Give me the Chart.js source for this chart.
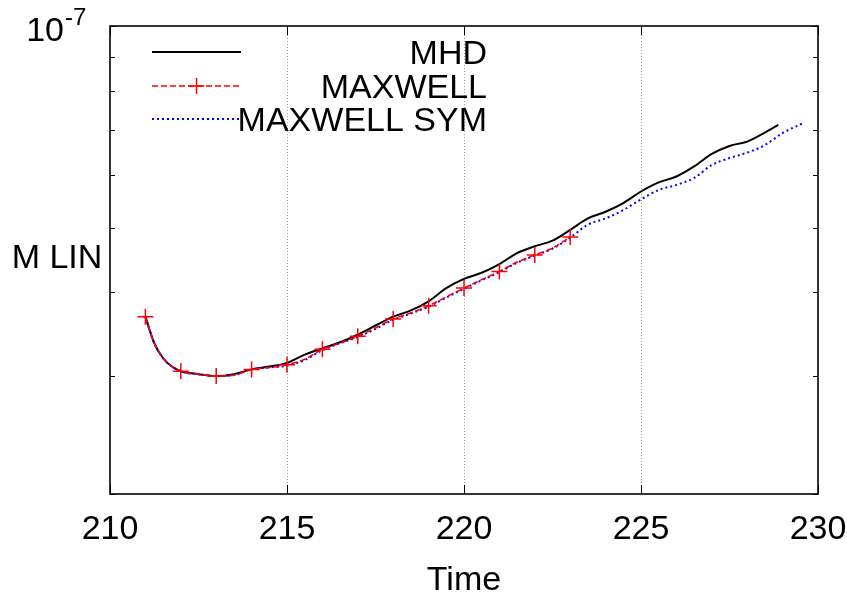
<!DOCTYPE html>
<html><head><meta charset="utf-8">
<script src="https://cdn.jsdelivr.net/npm/chart.js@4.4.1/dist/chart.umd.min.js"></script>
<style>html,body{margin:0;padding:0;background:#fff}#wrap{width:847px;height:595px}</style>
</head><body><div id="wrap"><canvas id="c" width="847" height="595"></canvas></div>
<script>
// values in units of 1e-8
const Y_UNIT = 1e-8;
const seriesNames = ['MHD', 'MAXWELL', 'MAXWELL SYM'];

const mhdTime = [211, 211.25, 211.5, 211.75, 212, 212.5, 213, 213.5, 214, 214.5, 215, 215.5, 216, 216.5, 217, 217.5, 218, 218.5, 219, 219.5, 220, 220.5, 221, 221.5, 222, 222.5, 223, 223.5, 224, 224.5, 225, 225.5, 226, 226.5, 227, 227.5, 228, 228.5, 228.88];
const mhdValue = [3.68, 3.36, 3.19, 3.10, 3.05, 3.02, 3.00, 3.02, 3.07, 3.10, 3.14, 3.23, 3.30, 3.37, 3.46, 3.57, 3.68, 3.76, 3.88, 4.06, 4.19, 4.28, 4.41, 4.58, 4.69, 4.78, 4.96, 5.16, 5.28, 5.44, 5.66, 5.84, 5.96, 6.17, 6.44, 6.62, 6.72, 6.93, 7.12];

const maxTime = [211, 211.25, 211.5, 211.75, 212, 212.5, 213, 213.5, 214, 214.5, 215, 215.5, 216, 216.5, 217, 217.5, 218, 218.5, 219, 219.5, 220, 220.5, 221, 221.5, 222, 222.5, 223];
const maxValue = [3.68, 3.36, 3.19, 3.10, 3.05, 3.02, 3.00, 3.01, 3.07, 3.09, 3.12, 3.18, 3.29, 3.36, 3.44, 3.54, 3.65, 3.73, 3.82, 3.94, 4.06, 4.18, 4.30, 4.44, 4.55, 4.66, 4.84];

const symTime = [211, 211.25, 211.5, 211.75, 212, 212.5, 213, 213.5, 214, 214.5, 215, 215.5, 216, 216.5, 217, 217.5, 218, 218.5, 219, 219.5, 220, 220.5, 221, 221.5, 222, 222.5, 223, 223.5, 224, 224.5, 225, 225.5, 226, 226.5, 227, 227.5, 228, 228.5, 229, 229.58];
const symValue = [3.68, 3.36, 3.19, 3.10, 3.05, 3.02, 3.00, 3.01, 3.07, 3.09, 3.11, 3.17, 3.28, 3.36, 3.43, 3.53, 3.64, 3.72, 3.81, 3.93, 4.05, 4.17, 4.29, 4.43, 4.54, 4.65, 4.83, 5.05, 5.16, 5.31, 5.51, 5.69, 5.79, 5.93, 6.20, 6.35, 6.47, 6.64, 6.92, 7.16];

const xTicks = [210, 215, 220, 225, 230];
const xGridTicks = [215, 220, 225];
const yTicks = [2, 3, 4, 5, 6, 7, 8, 9, 10];
const yLabelBase = '10';
const yLabelExp = '-7';
const xTitle = 'Time';
const yTitle = 'M LIN';

const FONT = '"Liberation Sans", Arial, Helvetica, sans-serif';
const toPts = (ts, vs) => ts.map((t, i) => ({x: t, y: vs[i] * Y_UNIT}));

const decor = {
  id: 'decor',
  afterDraw(chart) {
    const {ctx, chartArea: a, scales: {x, y}} = chart;
    ctx.save();
    ctx.setLineDash([]);
    ctx.strokeStyle = '#000';
    ctx.lineWidth = 1;
    xTicks.forEach(v => {
      const px = Math.round(x.getPixelForValue(v)) + 0.5;
      ctx.beginPath();
      ctx.moveTo(px, a.bottom); ctx.lineTo(px, a.bottom - 9);
      ctx.moveTo(px, a.top); ctx.lineTo(px, a.top + 9);
      ctx.stroke();
    });
    yTicks.forEach(v => {
      const py = Math.round(y.getPixelForValue(v * Y_UNIT)) + 0.5;
      ctx.beginPath();
      ctx.moveTo(a.left, py); ctx.lineTo(a.left + 5, py);
      ctx.moveTo(a.right, py); ctx.lineTo(a.right - 5, py);
      ctx.stroke();
    });
    ctx.lineWidth = 1.6;
    ctx.strokeRect(a.left, a.top, a.right - a.left, a.bottom - a.top);
    ctx.fillStyle = '#000';
    const pTop = y.getPixelForValue(yTicks[yTicks.length - 1] * Y_UNIT);
    ctx.font = '34px ' + FONT;
    ctx.textAlign = 'right';
    ctx.textBaseline = 'alphabetic';
    ctx.fillText(yLabelBase, 64, pTop + 15);
    ctx.font = '24px ' + FONT;
    ctx.textAlign = 'left';
    ctx.fillText(yLabelExp, 65, pTop - 1);
    ctx.font = '34px ' + FONT;
    ctx.textAlign = 'center';
    ctx.fillText(yTitle, 57, a.top + 242);
    const rows = [a.top + 26, a.top + 60, a.top + 93];
    const x0 = a.left + 42, x1 = a.left + 131, tx = a.left + 377;
    chart.data.datasets.forEach((ds, i) => {
      const ly = rows[i];
      ctx.save();
      ctx.strokeStyle = ds.borderColor;
      ctx.lineWidth = ds.borderWidth;
      ctx.setLineDash(ds.borderDash || []);
      ctx.beginPath(); ctx.moveTo(x0, ly); ctx.lineTo(x1, ly); ctx.stroke();
      if (ds.legendMarker) {
        ctx.setLineDash([]);
        ctx.lineWidth = 1.5;
        const cx = (x0 + x1) / 2;
        ctx.beginPath();
        ctx.moveTo(cx - 8, ly); ctx.lineTo(cx + 8, ly);
        ctx.moveTo(cx, ly - 8); ctx.lineTo(cx, ly + 8);
        ctx.stroke();
      }
      ctx.restore();
      ctx.font = '34px ' + FONT;
      ctx.textAlign = 'right';
      ctx.fillStyle = '#000';
      ctx.fillText(seriesNames[i], tx, ly + 11.5);
    });
    ctx.restore();
  }
};

new Chart(document.getElementById('c'), {
  type: 'line',
  data: {
    datasets: [
      {label: seriesNames[0], data: toPts(mhdTime, mhdValue), borderColor: '#000000', borderWidth: 2,
       pointRadius: 0, order: 2, cubicInterpolationMode: 'monotone'},
      {label: seriesNames[1], data: toPts(maxTime, maxValue), borderColor: '#ff0000', borderWidth: 1.6,
       borderDash: [6, 3], pointStyle: 'cross', pointBorderColor: '#ff0000', pointBorderWidth: 1.5,
       pointRadius: c => (c.raw && Number.isInteger(c.raw.x)) ? 8 : 0, legendMarker: true,
       order: 0, cubicInterpolationMode: 'monotone'},
      {label: seriesNames[2], data: toPts(symTime, symValue), borderColor: '#0000ff', borderWidth: 2,
       borderDash: [2, 3], pointRadius: 0, order: 1, cubicInterpolationMode: 'monotone'}
    ]
  },
  options: {
    responsive: false,
    animation: false,
    devicePixelRatio: 1,
    layout: {padding: {top: 26, right: 29, left: 0, bottom: 0}},
    plugins: {legend: {display: false}, tooltip: {enabled: false}},
    scales: {
      x: {
        type: 'linear', min: 210, max: 230,
        afterFit: s => { s.height = 101; s.paddingRight = 0; s.paddingLeft = 0; },
        afterBuildTicks: s => { s.ticks = xTicks.map(v => ({value: v})); },
        ticks: {color: '#000', font: {family: FONT, size: 34}, padding: 15, maxRotation: 0},
        grid: {drawTicks: false, lineWidth: 1,
               color: c => (c.tick && xGridTicks.includes(c.tick.value)) ? '#9a9a9a' : 'rgba(0,0,0,0)'},
        border: {display: false, dash: [1, 2]},
        title: {display: true, text: xTitle, color: '#000', font: {family: FONT, size: 34, lineHeight: 1}, padding: {top: 0, bottom: -3}}
      },
      y: {
        type: 'logarithmic', min: yTicks[0] * Y_UNIT, max: yTicks[yTicks.length - 1] * Y_UNIT,
        afterFit: s => { s.width = 110; s.paddingTop = 0; s.paddingBottom = 0; },
        ticks: {display: false},
        grid: {display: false},
        border: {display: false}
      }
    }
  },
  plugins: [decor]
});
</script></body></html>
